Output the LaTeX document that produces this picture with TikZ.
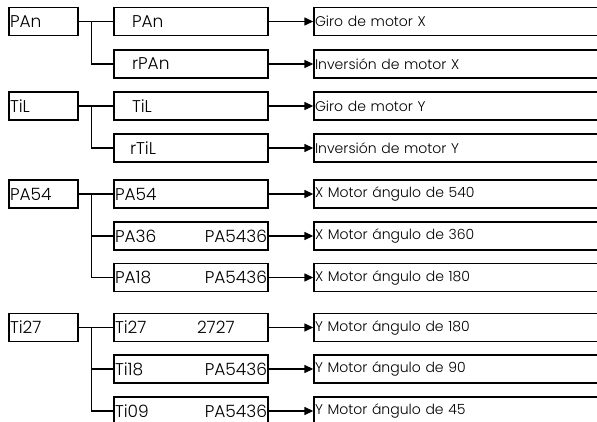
\documentclass[tikz,border=0pt]{standalone}
\usepackage{fontspec}
\setmainfont{Poppins}[UprightFont=* Light]
\usetikzlibrary{arrows.meta,positioning}
\begin{document}
\begin{tikzpicture}[x=1pt,y=-1pt,>={Triangle[length=9pt,width=8pt]},line width=1.4pt,
  keybox/.style={draw,minimum height=28pt,inner xsep=1pt,inner ysep=0pt,text width=67pt,align=left,font=\fontsize{17}{17}\selectfont},
  cmdbox/.style={draw,minimum height=28pt,inner xsep=1pt,inner ysep=0pt,text width=152pt,align=left,font=\fontsize{17}{17}\selectfont},
  descbox/.style={draw,minimum height=28pt,inner xsep=1pt,inner ysep=0pt,text width=298pt,align=left,font=\fontsize{14}{14}\selectfont},
  rlabel/.style={anchor=east,inner xsep=1pt,font=\fontsize{17}{17}\selectfont}]
  \useasboundingbox (0,0) rectangle (597,422);
  % first column: keys
  \node[keybox] (k1) at (43.5,21.5) {PAn};
  \node[keybox] (k3) at (43.5,106) {TiL};
  \node[keybox] (k5) at (43.5,194) {PA54};
  \node[keybox] (k8) at (43.5,327.5) {Ti27};
  % second column: commands
  \node[cmdbox] (c1) at (191,21.5) {\hspace*{17pt}PAn};
  \node[cmdbox] (c2) at (191,64) {\hspace*{17pt}rPAn};
  \node[cmdbox] (c3) at (191,106) {\hspace*{17pt}TiL};
  \node[cmdbox] (c4) at (191,148) {\hspace*{15pt}rTiL};
  \node[cmdbox] (c5) at (191,194) {PA54};
  \node[cmdbox,label={[rlabel]east:PA5436}] (c6) at (191,236) {PA36};
  \node[cmdbox,label={[rlabel]east:PA5436}] (c7) at (191,277.5) {PA18};
  \node[cmdbox,label={[rlabel,anchor=west,xshift=82pt]west:2727}] (c8) at (191,327.5) {Ti27};
  \node[cmdbox,label={[rlabel]east:PA5436}] (c9) at (191,369) {Ti18};
  \node[cmdbox,label={[rlabel]east:PA5436}] (c10) at (191,411) {Ti09};
  % third column: descriptions
  \node[descbox] (d1) at (464,21.5) {Giro de motor X};
  \node[descbox] (d2) at (464,64) {Inversión de motor X};
  \node[descbox] (d3) at (464,106) {Giro de motor Y};
  \node[descbox] (d4) at (464,148) {Inversión de motor Y};
  \node[descbox] (d5) at (464,194) {X Motor ángulo de 540};
  \node[descbox] (d6) at (464,236) {X Motor ángulo de 360};
  \node[descbox] (d7) at (464,277.5) {X Motor ángulo de 180};
  \node[descbox] (d8) at (464,327.5) {Y Motor ángulo de 180};
  \node[descbox] (d9) at (464,369) {Y Motor ángulo de 90};
  \node[descbox] (d10) at (464,411) {Y Motor ángulo de 45};
  % branches
  \draw (k1.east) -- (c1.west);
  \draw (k1.east) ++(13,0) |- (c2.west);
  \draw (k3.east) -- (c3.west);
  \draw (k3.east) ++(13,0) |- (c4.west);
  \draw (k5.east) -- (c5.west);
  \draw (k5.east) ++(13,0) |- (c6.west);
  \draw (k5.east) ++(13,0) |- (c7.west);
  \draw (k8.east) -- (c8.west);
  \draw (k8.east) ++(13,0) |- (c9.west);
  \draw (k8.east) ++(13,0) |- (c10.west);
  \foreach \i in {1,...,10}
    \draw[->] (c\i.east) -- (d\i.west);
\end{tikzpicture}
\end{document}
